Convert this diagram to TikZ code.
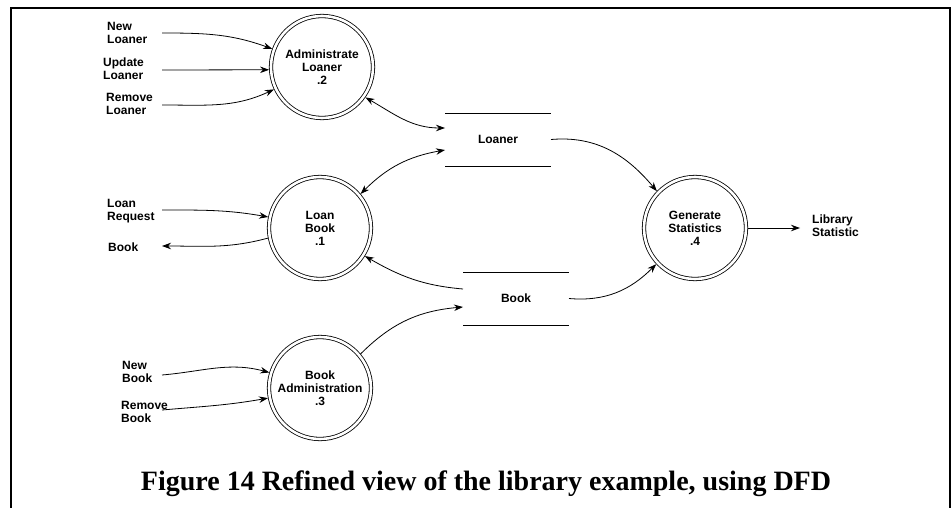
\documentclass[tikz,border=0pt]{standalone}
\usepackage{fontspec}
\setmainfont{Liberation Sans}
\newfontfamily\capfont{Liberation Serif}
\usetikzlibrary{arrows.meta}

\begin{document}
\begin{tikzpicture}[x=1pt,y=-1pt,
  tip/.tip={Stealth[length=9pt,width=6.5pt]},
  flow/.style={line width=0.8pt, -tip},
  biflow/.style={line width=0.8pt, tip-tip},
  process/.style={circle, draw, double, double distance=2.6pt, line width=0.8pt,
    minimum size=102pt, inner sep=0pt, outer sep=2pt, align=center,
    font=\bfseries\fontsize{12}{13}\selectfont},
  store/.style={minimum width=106pt, minimum height=53pt, inner sep=0pt, outer sep=0pt,
    font=\bfseries\fontsize{12}{13}\selectfont},
  lbl/.style={anchor=west, align=left, inner sep=0pt,
    font=\bfseries\fontsize{12}{13}\selectfont},
]
\useasboundingbox (0,0) rectangle (952,508);

% frame, open at the bottom
\draw[line width=2pt] (11,508) -- (11,7.7) -- (950,7.7) -- (950,508);

% processes
\node[process] (admin)  at (322,67)  {Administrate\\Loaner\\.2};
\node[process] (loan)   at (320,228) {Loan\\Book\\.1};
\node[process] (badmin) at (320,388) {Book\\Administration\\.3};
\node[process] (gen)    at (695,228) {Generate\\Statistics\\.4};

% data stores
\node[store] (loaner) at (498,139.5) {Loaner};
\node[store] (book)   at (516,298.5) {Book};
\draw[line width=0.8pt] (loaner.north west) -- (loaner.north east)
                        (loaner.south west) -- (loaner.south east)
                        (book.north west) -- (book.north east)
                        (book.south west) -- (book.south east);

% external flow labels
\node[lbl] (nl) at (107,33)    {New\\Loaner};
\node[lbl] (ul) at (103,68.5)  {Update\\Loaner};
\node[lbl] (rl) at (106,104)   {Remove\\Loaner};
\node[lbl] (lr) at (107,211.5) {Loan\\Request};
\node[lbl] (bk) at (108,247)   {Book};
\node[lbl] (nb) at (122,372)   {New\\Book};
\node[lbl] (rb) at (121,411.5) {Remove\\Book};
\node[lbl] (ls) at (812,225.5) {Library\\Statistic};

% free ends of the external flows
\coordinate (nlEnd) at (162,33);
\coordinate (ulEnd) at (162,70);
\coordinate (rlEnd) at (162,105);
\coordinate (lrEnd) at (162,210);
\coordinate (bkEnd) at (162,246);
\coordinate (nbEnd) at (162,375);
\coordinate (rbEnd) at (162,410);
\coordinate (lsEnd) at (800,228);

% flows into Administrate Loaner
\draw[flow] (nlEnd) to[out=0,in=160] (admin.160);
\draw[flow] (ulEnd) -- (admin.183);
\draw[flow] (rlEnd) to[out=0,in=205] (admin.205);

% flows of Loan Book
\draw[flow] (lrEnd) to[out=0,in=170] (loan.168);
\draw[flow] (loan.191) to[out=195,in=0] (bkEnd);

% flows into Book Administration
\draw[flow] (nbEnd) to[out=5,in=165] (badmin.163);
\draw[flow] (rbEnd) to[out=5,in=190] (badmin.191);

% flows between processes and stores
\draw[biflow] (admin.-35) to[out=-30,in=180] ([yshift=11.5pt]loaner.west);
\draw[biflow] (loan.40) to[out=45,in=190] ([yshift=-10.5pt]loaner.west);
\draw[flow] ([yshift=9.5pt]book.west) to[out=175,in=-30] (loan.-32);
\draw[flow] (badmin.40) to[out=45,in=185] ([yshift=-8.5pt]book.west);
\draw[flow] (loaner.east) to[out=5,in=130] (gen.136);
\draw[flow] (book.east) to[out=-5,in=225] (gen.223);
\draw[flow] (gen.east) -- (lsEnd);

% caption
\node[font=\capfont\bfseries\fontsize{28}{32}\selectfont] (cap) at (486,484)
  {Figure 14 Refined view of the library example, using DFD};
\end{tikzpicture}
\end{document}
